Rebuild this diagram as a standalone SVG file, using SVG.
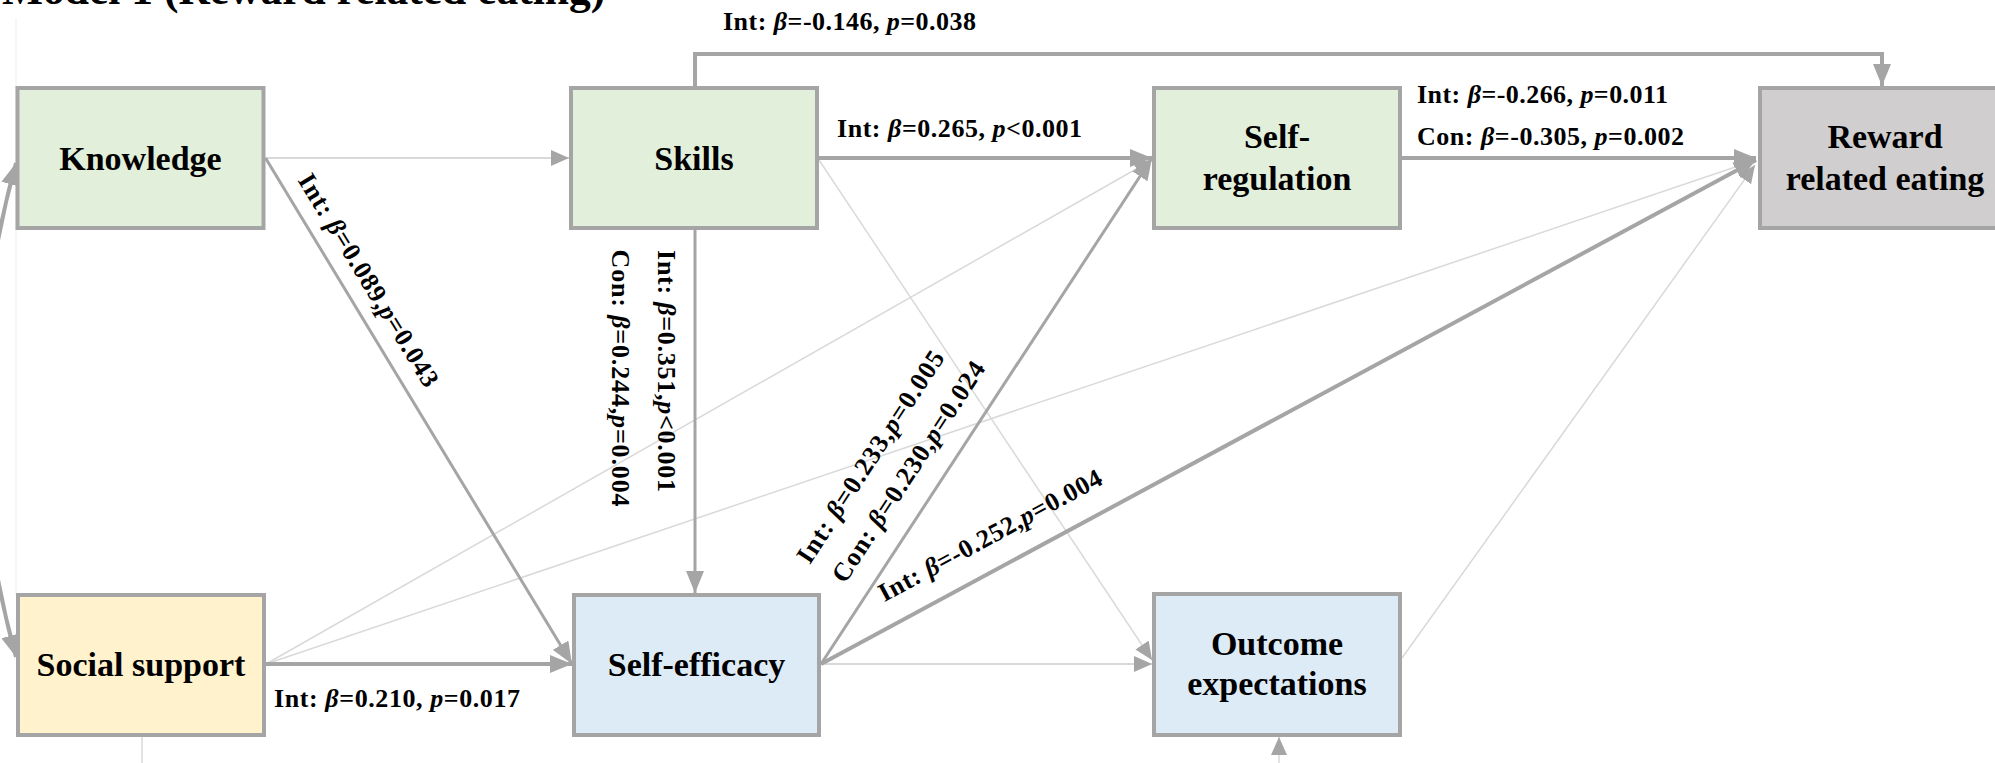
<svg xmlns="http://www.w3.org/2000/svg" width="1995" height="763" viewBox="0 0 1995 763">
<style>
.node rect{stroke:#a5a5a5;stroke-width:4}
.nt{font-family:"Liberation Serif","Times New Roman",serif;font-weight:bold;font-size:34px;fill:#000;text-anchor:middle}
.ttl{font-family:"Liberation Serif","Times New Roman",serif;font-weight:bold;font-size:43.5px;fill:#000}
.lbl{font-family:"Liberation Serif","Times New Roman",serif;font-weight:bold;font-size:26px;fill:#000}
.rc{text-anchor:middle}
.it{font-style:italic}
.thick{fill:none;stroke:#a5a5a5;stroke-width:4}
.med{fill:none;stroke:#a5a5a5;stroke-width:3}
.thin{fill:none;stroke:#d9d9d9;stroke-width:1.5}
</style>
<defs>
<marker id="al" markerUnits="userSpaceOnUse" viewBox="0 0 22 18" refX="22" refY="9" markerWidth="22" markerHeight="18" orient="auto-start-reverse"><path d="M0,0 L22,9 L0,18 z" fill="#a5a5a5"/></marker>
<marker id="as" markerUnits="userSpaceOnUse" viewBox="0 0 18 16" refX="18" refY="8" markerWidth="18" markerHeight="16" orient="auto"><path d="M0,0 L18,8 L0,16 z" fill="#a5a5a5"/></marker>
</defs>
<rect width="1995" height="763" fill="#fff"/>
<text class="ttl" x="2" y="4">Model 1 (Reward related eating)</text>
<line x1="16" y1="18" x2="16" y2="595" stroke="#efefef" stroke-width="1"/>
<g id="connectors">
<line class="thin" style="stroke-width:2" x1="265.5" y1="158" x2="569" y2="158" marker-end="url(#as)"/>
<line class="thin" style="stroke-width:2" x1="821" y1="664" x2="1152" y2="664" marker-end="url(#as)"/>
<line class="thin" x1="266" y1="664" x2="1152" y2="160" marker-end="url(#as)"/>
<line class="thin" x1="266" y1="664" x2="1756" y2="160" marker-end="url(#as)"/>
<line class="thin" x1="819" y1="160" x2="1152" y2="660" marker-end="url(#as)"/>
<line class="thin" x1="1402" y1="658" x2="1755" y2="165" marker-end="url(#as)"/>
<line class="thin" x1="142" y1="737" x2="142" y2="763"/>
<line class="thin" x1="1279" y1="763" x2="1279" y2="737" marker-end="url(#as)"/>
<path class="thick" d="M695,86 V54 H1882 V86" marker-end="url(#al)"/>
<line class="thick" x1="819" y1="158" x2="1152" y2="158" marker-end="url(#al)"/>
<line class="thick" x1="1402" y1="158" x2="1756" y2="158" marker-end="url(#al)"/>
<line class="med" x1="265.5" y1="158" x2="572" y2="664" marker-end="url(#al)"/>
<line class="med" x1="695" y1="230" x2="695" y2="593" marker-end="url(#al)"/>
<line class="thick" x1="266" y1="664" x2="572" y2="664" marker-end="url(#al)"/>
<line class="med" x1="821" y1="664" x2="1152" y2="158" marker-end="url(#al)"/>
<line class="thick" x1="821" y1="664" x2="1756" y2="160" marker-end="url(#al)"/>
<path class="thick" d="M16,163 A920,920 0 0 0 16,657" marker-start="url(#al)" marker-end="url(#al)"/>
<text class="lbl" x="723" y="30" textLength="253" lengthAdjust="spacing">Int: <tspan class="it">β</tspan>=-0.146, <tspan class="it">p</tspan>=0.038</text>
<text class="lbl" x="837" y="137" textLength="245" lengthAdjust="spacing">Int: <tspan class="it">β</tspan>=0.265, <tspan class="it">p</tspan>&lt;0.001</text>
<text class="lbl" x="1417" y="103" textLength="251" lengthAdjust="spacing">Int: <tspan class="it">β</tspan>=-0.266, <tspan class="it">p</tspan>=0.011</text>
<text class="lbl" x="1417" y="145" textLength="267" lengthAdjust="spacing">Con: <tspan class="it">β</tspan>=-0.305, <tspan class="it">p</tspan>=0.002</text>
<text class="lbl" x="274" y="707" textLength="246" lengthAdjust="spacing">Int: <tspan class="it">β</tspan>=0.210, <tspan class="it">p</tspan>=0.017</text>
<g transform="translate(369,280) rotate(58.5)"><text class="lbl rc" x="0" y="9" textLength="245" lengthAdjust="spacing">Int: <tspan class="it">β</tspan>=0.089,<tspan class="it">p</tspan>=0.043</text></g>
<g transform="translate(667,371) rotate(90)"><text class="lbl rc" x="0" y="9" textLength="242" lengthAdjust="spacing">Int: <tspan class="it">β</tspan>=0.351,<tspan class="it">p</tspan>&lt;0.001</text></g>
<g transform="translate(621,378) rotate(90)"><text class="lbl rc" x="0" y="9" textLength="257" lengthAdjust="spacing">Con: <tspan class="it">β</tspan>=0.244,<tspan class="it">p</tspan>=0.004</text></g>
<g transform="translate(870,456.5) rotate(-56.9)"><text class="lbl rc" x="0" y="9" textLength="248" lengthAdjust="spacing">Int: <tspan class="it">β</tspan>=0.233,<tspan class="it">p</tspan>=0.005</text></g>
<g transform="translate(908,471.5) rotate(-56.9)"><text class="lbl rc" x="0" y="9" textLength="258" lengthAdjust="spacing">Con: <tspan class="it">β</tspan>=0.230,<tspan class="it">p</tspan>=0.024</text></g>
<g transform="translate(990,535) rotate(-28.4)"><text class="lbl rc" x="0" y="9" textLength="250" lengthAdjust="spacing">Int: <tspan class="it">β</tspan>=-0.252,<tspan class="it">p</tspan>=0.004</text></g>
</g>
<g id="knowledge" class="node"><rect x="17.5" y="88" width="246" height="140" fill="#e2efda"/><text class="nt" x="140.5" y="170">Knowledge</text></g>
<g id="skills" class="node"><rect x="571" y="88" width="246" height="140" fill="#e2efda"/><text class="nt" x="694" y="170">Skills</text></g>
<g id="self-regulation" class="node"><rect x="1154" y="88" width="246" height="140" fill="#e2efda"/><text class="nt" x="1277" y="148">Self-</text><text class="nt" x="1277" y="190">regulation</text></g>
<g id="reward" class="node"><rect x="1760" y="88" width="246" height="140" fill="#d0cece"/><text class="nt" x="1885" y="148">Reward</text><text class="nt" x="1885" y="190">related eating</text></g>
<g id="social-support" class="node"><rect x="18" y="595" width="246" height="140" fill="#fff2cc"/><text class="nt" x="141" y="676">Social support</text></g>
<g id="self-efficacy" class="node"><rect x="574" y="595" width="245" height="140" fill="#ddebf7"/><text class="nt" x="696.5" y="676">Self-efficacy</text></g>
<g id="outcome-expectations" class="node"><rect x="1154" y="594" width="246" height="141" fill="#ddebf7"/><text class="nt" x="1277" y="655">Outcome</text><text class="nt" x="1277" y="695">expectations</text></g>
</svg>
